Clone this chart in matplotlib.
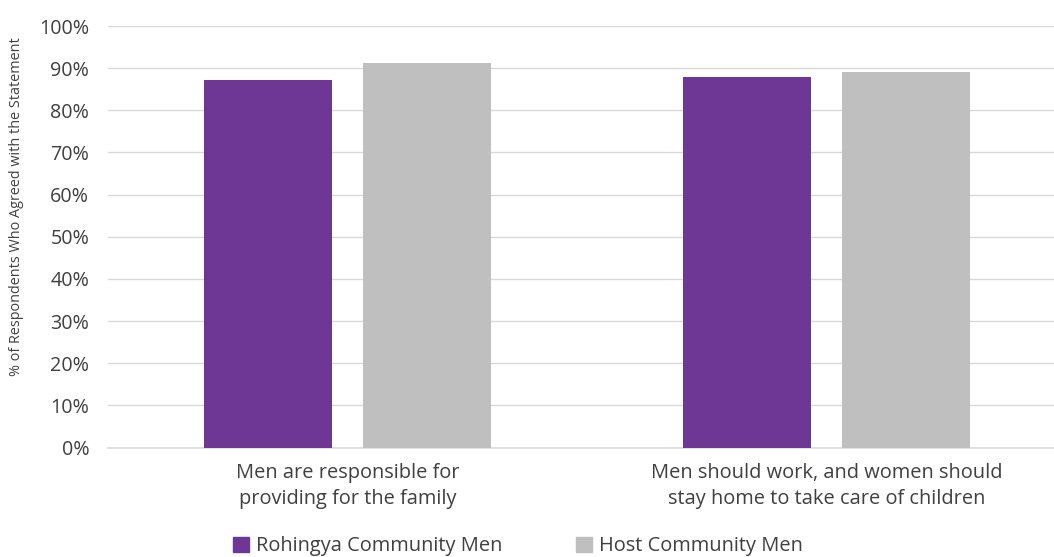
import matplotlib
matplotlib.use("Agg")
import matplotlib.pyplot as plt
from matplotlib.patches import Patch
from matplotlib.ticker import FuncFormatter

categories = ["Men are responsible for\nproviding for the family",
              "Men should work, and women should\nstay home to take care of children"]
series_names = ["Rohingya Community Men", "Host Community Men"]
rohingya = [87.2, 87.9]
host = [91.3, 89.1]
yticks = [0, 10, 20, 30, 40, 50, 60, 70, 80, 90, 100]

colors = ["#6f3795", "#bfbfbf"]
text_color = "#404040"
plt.rcParams['font.family'] = ['Open Sans', 'DejaVu Sans']

W, H = 1054, 557
fig = plt.figure(figsize=(W / 100, H / 100), dpi=100)
left, right = 108 / W, 1.0
bottom, top = (H - 447.5) / H, (H - 26) / H
ax = fig.add_axes([left, bottom, right - left, top - bottom])

x = list(range(len(categories)))
bw = 0.267
off = 0.166
ax.bar([i - off for i in x], rohingya, width=bw, color=colors[0], zorder=3)
ax.bar([i + off for i in x], host, width=bw, color=colors[1], zorder=3)

ax.set_xlim(-0.5, 1.5 - 12 / 479)
ax.set_ylim(0, 100)
ax.set_yticks(yticks)
ax.yaxis.set_major_formatter(FuncFormatter(lambda v, p: f"{int(v)}%"))
ax.grid(axis='y', color='#d9d9d9', linewidth=1, zorder=0)
for s in ['top', 'right', 'left']:
    ax.spines[s].set_visible(False)
ax.spines['bottom'].set_color('#d9d9d9')
ax.spines['bottom'].set_linewidth(1.2)
fs = 14.4
ax.tick_params(axis='y', length=0, pad=13.5, labelsize=14.2, labelcolor=text_color)
ax.tick_params(axis='x', length=0, pad=11.5, labelsize=fs, labelcolor=text_color)
ax.set_xticks(x)
ax.set_xticklabels(categories, linespacing=1.38)

fig.text(17 / W, 1 - 207 / H, "% of Respondents Who Agreed with the Statement",
         rotation=90, ha='center', va='center', fontsize=10.4, color=text_color)

handles = [Patch(color=c) for c in colors]
fig.legend(handles, series_names, loc='center', bbox_to_anchor=(518 / W, 1 - 546 / H),
           ncol=2, frameon=False, fontsize=fs, labelcolor=text_color,
           handlelength=0.82, handleheight=0.78, handletextpad=0.35, columnspacing=3.65)

fig.savefig("out.png", dpi=100)
